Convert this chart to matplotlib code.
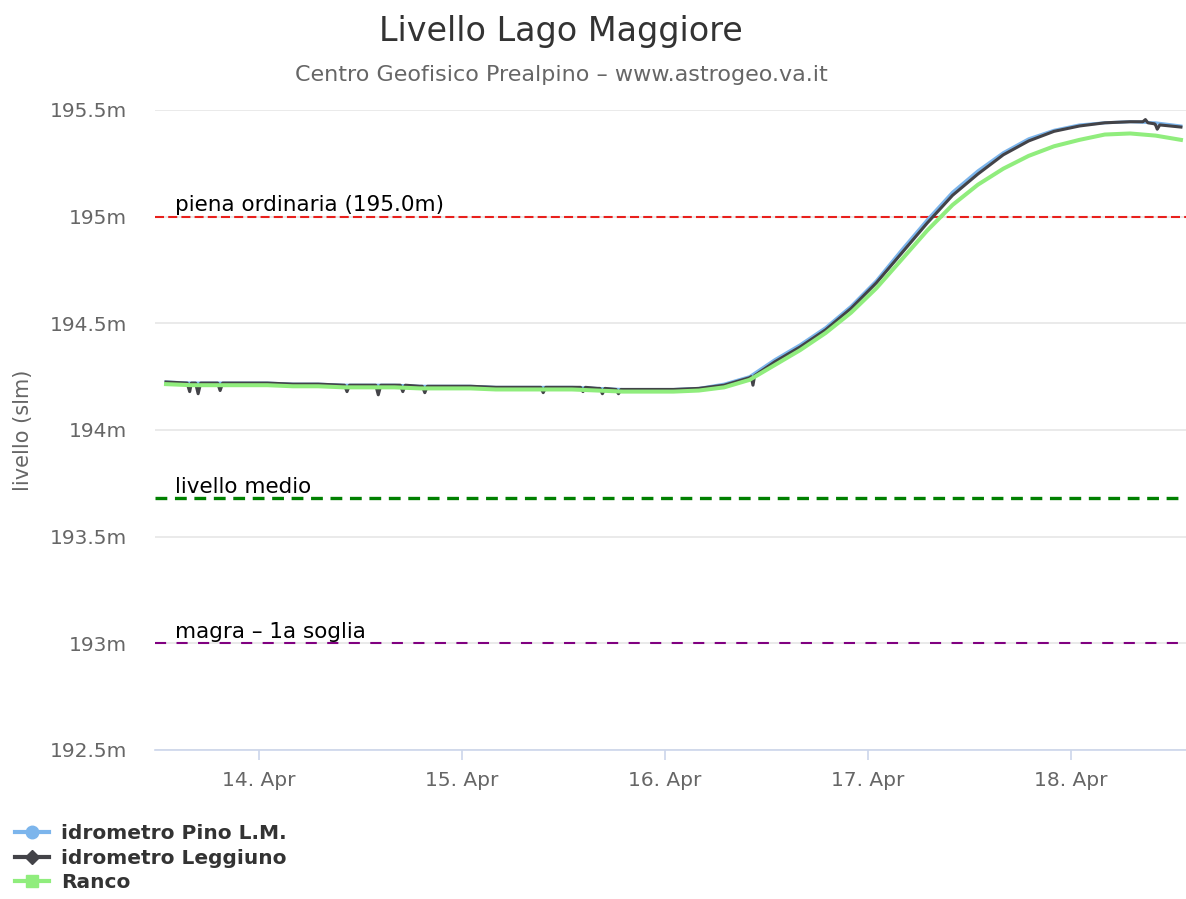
import matplotlib.pyplot as plt
import matplotlib.dates as mdates
import matplotlib.transforms as mtransforms
from matplotlib.lines import Line2D
import pandas as pd

plt.rcParams['lines.scale_dashes'] = False

START = pd.Timestamp('2021-04-13 00:00')

# ore dall'inizio del 13 aprile, una lettura ogni 3 ore
hours = list(range(13, 134, 3))

pino = [194.225, 194.22, 194.22, 194.22, 194.22, 194.215, 194.215, 194.21, 194.21, 194.21,
        194.205, 194.205, 194.205, 194.2, 194.2, 194.2, 194.2, 194.195, 194.19, 194.19,
        194.19, 194.195, 194.215, 194.25, 194.33, 194.40, 194.48, 194.58, 194.70, 194.845,
        194.985, 195.115, 195.215, 195.30, 195.365, 195.405, 195.43, 195.44, 195.445, 195.44,
        195.425]

leggiuno = [194.225, 194.22, 194.22, 194.22, 194.22, 194.215, 194.215, 194.21, 194.21, 194.21,
            194.205, 194.205, 194.205, 194.2, 194.2, 194.2, 194.2, 194.195, 194.19, 194.19,
            194.19, 194.195, 194.21, 194.245, 194.32, 194.39, 194.47, 194.57, 194.69, 194.83,
            194.97, 195.10, 195.20, 195.29, 195.355, 195.40, 195.425, 195.44, 195.445, 195.43,
            195.42]

# piccoli picchi verso il basso del Leggiuno
leggiuno_extra_hours = [15.5, 15.8, 16.1, 16.5, 16.8, 17.1, 19.1, 19.4, 19.7,
                        34.1, 34.4, 34.7, 37.8, 38.1, 38.4, 40.7, 41.0, 41.3,
                        43.3, 43.6, 43.9, 57.3, 57.6, 57.9, 62.0, 62.3, 62.6,
                        64.3, 64.6, 64.9, 66.2, 66.5, 66.8, 82.2, 82.4, 82.6,
                        128.5, 128.8, 129.1, 129.9, 130.2, 130.5]
leggiuno_extra_values = [194.22, 194.18, 194.22, 194.22, 194.17, 194.22, 194.22, 194.185, 194.22,
                         194.21, 194.18, 194.21, 194.21, 194.165, 194.21, 194.21, 194.18, 194.21,
                         194.205, 194.175, 194.205, 194.2, 194.175, 194.2, 194.2, 194.18, 194.2,
                         194.195, 194.17, 194.195, 194.19, 194.17, 194.19, 194.25, 194.21, 194.255,
                         195.445, 195.455, 195.44, 195.435, 195.41, 195.43]

ranco = [194.215, 194.21, 194.21, 194.21, 194.21, 194.205, 194.205, 194.2, 194.2, 194.2,
         194.195, 194.195, 194.195, 194.19, 194.19, 194.19, 194.19, 194.185, 194.18, 194.18,
         194.18, 194.185, 194.2, 194.235, 194.305, 194.375, 194.455, 194.55, 194.665, 194.80,
         194.935, 195.055, 195.15, 195.225, 195.285, 195.33, 195.36, 195.385, 195.39, 195.38,
         195.36]

plot_lines = [195.0, 193.68, 193.0]
plot_labels = ['piena ordinaria (195.0m)', 'livello medio', 'magra \u2013 1a soglia']


def to_time(h):
    return START + pd.to_timedelta(h, unit='h')


fig = plt.figure(figsize=(11.86, 8.99), dpi=100)
ax = fig.add_axes([155 / 1186, 1 - 750 / 899, 1 - 155 / 1186, (750 - 110) / 899])

t = [to_time(h) for h in hours]
leg = sorted(zip(hours + leggiuno_extra_hours, leggiuno + leggiuno_extra_values))
t_leg = [to_time(h) for h, v in leg]
v_leg = [v for h, v in leg]

ax.plot(t, pino, color='#7cb5ec', lw=2.2, zorder=3)
ax.plot(t_leg, v_leg, color='#434348', lw=2.2, zorder=4)
ax.plot(t, ranco, color='#90ed7d', lw=2.9, zorder=5)

# linee di riferimento
styles = [('#e8201c', 1.5, (6.5, 3.0)), ('#008000', 2.4, (8.5, 5.5)), ('#800080', 1.5, (8.0, 7.5))]
trans = mtransforms.blended_transform_factory(ax.transAxes, ax.transData)
for lev, lab, (col, lw, dash) in zip(plot_lines, plot_labels, styles):
    ax.axhline(lev, color=col, lw=lw, linestyle=(0, dash), zorder=2)
    ax.annotate(lab, xy=(20 / 1031, lev), xycoords=trans, xytext=(0, 4),
                textcoords='offset points', va='baseline', ha='left',
                fontsize=15.5, color='black', zorder=6)

ax.set_xlim(to_time(11.7), to_time(133.6))
ax.set_ylim(192.5, 195.5)
ax.set_yticks([192.5, 193, 193.5, 194, 194.5, 195, 195.5])
ax.yaxis.set_major_formatter(plt.FuncFormatter(lambda v, p: '{:g}m'.format(v)))
ax.xaxis.set_major_locator(mdates.DayLocator())
ax.xaxis.set_major_formatter(mdates.DateFormatter('%d. %b'))

ax.grid(axis='y', color='#e6e6e6', lw=1.2)
ax.set_axisbelow(True)
for s in ['top', 'right', 'left']:
    ax.spines[s].set_visible(False)
ax.spines['bottom'].set_color('#ccd6eb')
ax.spines['bottom'].set_linewidth(1.2)
ax.tick_params(axis='y', length=0, pad=20, labelsize=14.5, labelcolor='#666666')
ax.tick_params(axis='x', length=7, color='#ccd6eb', width=1.2, pad=8,
               labelsize=14.5, labelcolor='#666666')

ax.set_ylabel('livello (slm)', fontsize=15, color='#666666', labelpad=12)

fig.text(561 / 1186, 1 - 31 / 899, 'Livello Lago Maggiore', ha='center', va='center',
         fontsize=24, color='#333333')
fig.text(561 / 1186, 1 - 75 / 899, 'Centro Geofisico Prealpino \u2013 www.astrogeo.va.it',
         ha='center', va='center', fontsize=16, color='#666666')

handles = [Line2D([], [], color='#7cb5ec', lw=3, marker='o', markersize=9),
           Line2D([], [], color='#434348', lw=3, marker='D', markersize=7),
           Line2D([], [], color='#90ed7d', lw=3, marker='s', markersize=8)]
names = ['idrometro Pino L.M.', 'idrometro Leggiuno', 'Ranco']
lg = fig.legend(handles, names, loc='upper left', bbox_to_anchor=(15 / 1186, 1 - 824 / 899),
                frameon=False, borderpad=0, borderaxespad=0, labelspacing=0.28,
                handlelength=1.7, handletextpad=0.6, prop={'weight': 'bold', 'size': 14.5})
for txt in lg.get_texts():
    txt.set_color('#333333')

fig.savefig('out.png', dpi=100)
